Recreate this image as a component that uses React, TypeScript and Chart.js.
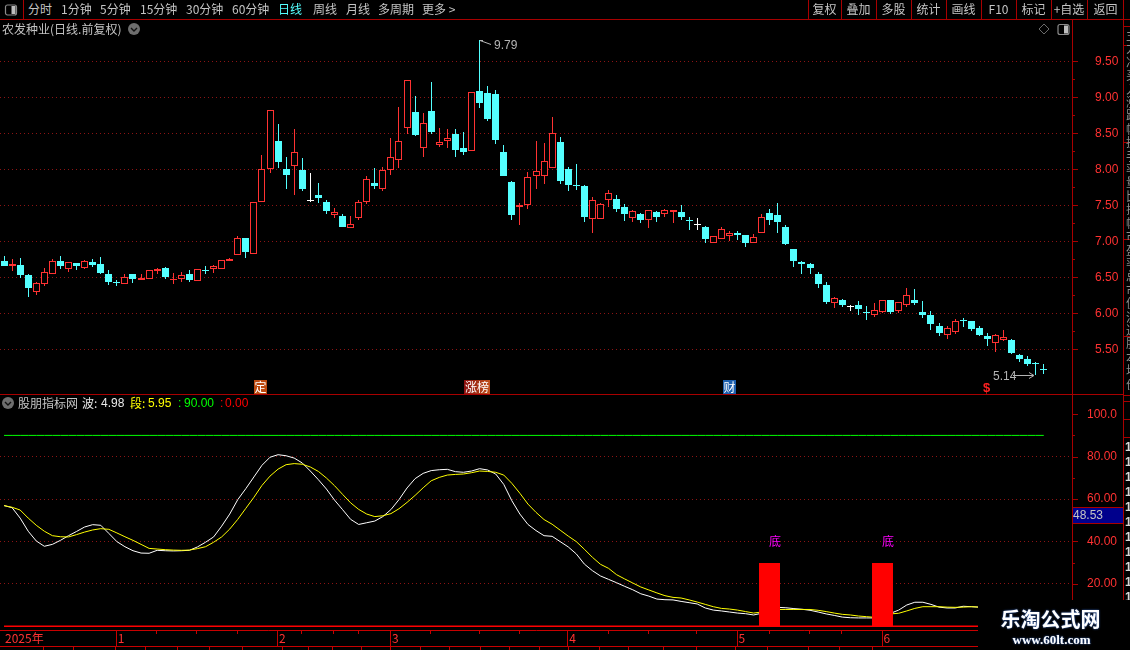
import React, { useEffect, useRef } from "react";
import { Chart, registerables } from "chart.js";

Chart.register(...registerables);

// ---------- candles ----------
const opens = [6.73,6.65,6.67,6.53,6.29,6.40,6.54,6.73,6.61,6.70,6.63,6.71,6.69,6.55,6.43,6.41,6.55,6.46,6.48,6.59,6.63,6.48,6.47,6.55,6.45,6.60,6.61,6.61,6.72,6.81,7.05,6.83,7.54,8.01,8.39,8.00,8.05,7.99,7.58,7.64,7.55,7.36,7.35,7.19,7.33,7.54,7.81,7.72,7.99,8.13,8.58,8.80,8.29,8.81,8.34,8.39,8.49,8.30,8.26,9.09,9.06,9.05,8.24,7.82,7.47,7.51,7.90,7.90,8.02,8.38,8.00,7.78,7.77,7.31,7.31,7.58,7.59,7.48,7.32,7.38,7.30,7.41,7.38,7.40,7.41,7.30,7.24,7.20,6.97,7.03,7.08,7.12,7.09,6.98,7.12,7.39,7.37,7.20,6.89,6.71,6.69,6.55,6.39,6.14,6.19,6.10,6.12,6.02,5.98,6.02,6.19,6.03,6.12,6.19,6.02,5.98,5.82,5.70,5.74,5.90,5.89,5.80,5.69,5.59,5.63,5.63,5.42,5.37,5.31,5.23];
const highs = [6.80,6.75,6.77,6.55,6.44,6.63,6.76,6.80,6.71,6.70,6.74,6.75,6.78,6.60,6.46,6.55,6.55,6.55,6.60,6.63,6.64,6.56,6.58,6.60,6.61,6.66,6.67,6.74,6.77,7.07,7.05,7.54,8.20,8.82,8.63,8.17,8.56,8.16,7.95,7.81,7.58,7.46,7.38,7.35,7.57,7.91,8.02,8.03,8.44,8.87,9.24,9.02,8.78,9.21,8.57,8.56,8.56,8.52,9.07,9.79,9.16,9.10,8.34,7.84,7.53,7.96,8.39,8.37,8.73,8.45,8.03,8.07,7.78,7.62,7.53,7.71,7.64,7.52,7.44,7.39,7.44,7.42,7.45,7.44,7.50,7.34,7.32,7.21,7.08,7.20,7.14,7.14,7.09,7.10,7.38,7.45,7.53,7.23,6.89,6.73,6.70,6.57,6.44,6.23,6.20,6.12,6.17,6.10,6.14,6.19,6.19,6.16,6.35,6.34,6.17,6.03,5.87,5.82,5.92,5.94,5.89,5.82,5.73,5.71,5.77,5.64,5.44,5.41,5.32,5.30];
const lows = [6.66,6.59,6.49,6.23,6.26,6.38,6.54,6.62,6.57,6.60,6.62,6.64,6.55,6.39,6.38,6.41,6.42,6.46,6.48,6.55,6.48,6.41,6.44,6.44,6.45,6.55,6.56,6.61,6.72,6.81,6.77,6.83,7.54,7.95,8.02,7.73,7.64,7.70,7.55,7.53,7.38,7.32,7.20,7.19,7.30,7.52,7.73,7.70,7.92,8.02,8.49,8.46,8.17,8.49,8.31,8.30,8.17,8.20,8.26,8.85,8.67,8.35,7.91,7.30,7.23,7.45,7.73,7.80,8.02,7.80,7.70,7.71,7.27,7.12,7.31,7.48,7.41,7.28,7.27,7.25,7.19,7.27,7.34,7.25,7.30,7.16,7.16,6.98,6.97,7.03,7.00,7.02,6.92,6.98,7.12,7.23,7.12,6.95,6.64,6.55,6.55,6.35,6.13,6.07,6.09,6.03,5.98,5.91,5.95,6.00,5.99,6.00,6.09,6.12,5.94,5.77,5.69,5.64,5.71,5.81,5.75,5.69,5.55,5.46,5.62,5.44,5.32,5.27,5.14,5.16];
const closes = [6.66,6.69,6.53,6.35,6.42,6.58,6.72,6.66,6.71,6.66,6.72,6.67,6.56,6.44,6.43,6.51,6.48,6.49,6.60,6.62,6.50,6.48,6.53,6.46,6.61,6.60,6.65,6.74,6.76,7.05,6.85,7.54,8.01,8.82,8.10,7.92,8.24,7.73,7.58,7.60,7.42,7.40,7.20,7.24,7.54,7.86,7.77,7.99,8.17,8.39,9.24,8.48,8.64,8.52,8.38,8.44,8.27,8.24,9.07,8.92,8.70,8.41,7.91,7.37,7.51,7.89,7.97,8.11,8.50,7.84,7.78,7.78,7.34,7.58,7.52,7.67,7.45,7.38,7.42,7.30,7.44,7.34,7.43,7.44,7.34,7.30,7.24,7.03,7.08,7.17,7.11,7.09,6.98,7.06,7.34,7.30,7.27,6.96,6.73,6.69,6.63,6.41,6.16,6.21,6.12,6.10,6.06,6.02,6.05,6.19,6.02,6.16,6.25,6.14,5.98,5.85,5.73,5.79,5.89,5.90,5.78,5.70,5.64,5.70,5.67,5.45,5.37,5.30,5.31,5.23];
const whiteCrosses = [38, 86, 105];
const redCrosses = [21];

// ---------- indicator ----------
const waveLine = [56.9,55.9,51.0,44.8,40.2,37.7,38.6,40.5,42.7,44.7,46.8,47.9,47.6,43.8,39.9,37.5,35.6,34.5,34.4,35.8,35.6,35.5,35.6,35.8,37.4,39.6,42.1,47.2,52.9,59.7,64.9,70.4,75.9,79.7,80.9,80.4,79.3,77.0,73.2,69.1,64.7,59.5,55.0,50.4,48.0,48.8,49.6,51.7,55.0,59.7,65.2,69.6,72.1,73.4,73.8,74.0,72.9,72.6,73.2,74.3,73.7,71.8,66.9,59.2,52.9,48.0,45.1,42.7,42.4,39.9,37.4,34.1,29.3,26.2,23.7,22.1,20.5,18.8,17.2,15.3,14.2,12.8,12.5,12.4,11.7,11.1,10.5,8.6,7.6,7.2,6.7,6.2,5.9,5.3,6.1,7.6,8.9,8.7,8.3,8.0,7.5,6.7,5.8,5.1,4.3,4.0,3.9,3.9,3.9,4.8,6.1,7.6,10.0,11.3,11.3,10.3,9.0,8.6,8.6,9.4,9.2,9.0,8.9,8.8,8.9,8.7,8.6,8.5,8.4,8.4];
const segmentLine = [56.9,56.1,54.8,51.0,47.6,44.8,42.7,42.2,42.1,43.2,44.4,45.4,46.0,45.7,44.0,42.2,40.5,38.6,36.7,36.4,36.1,35.9,35.8,35.9,36.6,37.5,39.6,42.1,45.8,50.4,55.6,60.8,66.4,70.8,74.1,76.2,76.7,76.4,75.1,73.0,69.9,66.3,62.2,58.2,55.1,52.9,51.7,52.1,53.1,55.4,58.4,61.7,65.3,68.6,70.2,71.3,71.6,71.8,72.4,73.2,73.0,72.6,71.3,67.4,62.7,57.6,53.7,50.3,48.1,45.3,42.5,39.9,36.3,32.5,29.2,27.3,24.3,22.3,20.4,18.5,17.1,15.7,14.4,13.6,13.3,12.4,11.4,10.3,9.2,8.4,8.1,7.6,6.9,6.2,6.7,7.3,7.9,7.9,7.9,7.9,7.9,7.5,6.9,6.2,5.6,5.3,4.8,4.5,4.2,5.0,5.8,6.1,7.2,8.4,9.2,9.2,9.2,9.0,8.9,9.0,9.2,9.0,8.9,8.8,8.8,8.7,8.7,8.6,8.5,8.5];
const signalIndex = [95, 109];
const signalHeight = 30;
const upperLevel = 90;
const lowerLevel = 0;

// ---------- axes ----------
const priceTicks = [9.5,9.25,9,8.75,8.5,8.25,8,7.75,7.5,7.25,7,6.75,6.5,6.25,6,5.75,5.5];
const indicatorTicks = [100,90,80,70,60,40,30,20];
const indicatorLabels: Record<number, string> = { 100: "100.0", 80: "80.00", 60: "60.00", 40: "40.00", 20: "20.00" };
const monthIndex = [0, 14, 34, 48, 70, 91, 109];
const monthLabels = ["2025年", "1", "2", "3", "4", "5", "6"];
const minorDateIndex = [19,24,29,37,41,44,53,59,64,75,80,86,95,100,104];

const BLANK_SLOTS = 3;
const slotLabels: string[] = [];
for (let i = 0; i < opens.length + BLANK_SLOTS; i++) {
  const m = monthIndex.indexOf(i);
  slotLabels.push(m >= 0 ? monthLabels[m] : "");
}

const RED_TEXT = "#ff3232";
const AXIS_RED = "#a80000";
const GRID_RED = "#8c1414";
const CYAN = "#54ffff";
const TEXT_GREY = "#c4c4c4";
const LABEL_FONT = "Liberation Sans";
const CJK = '"Noto Sans CJK SC", sans-serif';

const isWhite = (i: number) => whiteCrosses.includes(i);
const isRedCross = (i: number) => redCrosses.includes(i);
const candleColor = (i: number) => {
  if (closes[i] > opens[i]) return RED_TEXT;
  if (closes[i] < opens[i]) return CYAN;
  if (isWhite(i)) return "#ffffff";
  if (isRedCross(i)) return RED_TEXT;
  return CYAN;
};

const snapBars = {
  id: "snapBars",
  afterDatasetsUpdate(chart: any) {
    chart.data.datasets.forEach((ds: any, di: number) => {
      if ((ds.type || chart.config.type) !== "bar") return;
      chart.getDatasetMeta(di).data.forEach((el: any) => {
        if (el.skip || el.y == null || isNaN(el.y)) return;
        el.x = Math.floor(el.x) + 0.5;
        const a = Math.round(el.y);
        let b = Math.round(el.base);
        if (a === b) b = a + 1;
        el.y = a;
        el.base = b;
      });
    });
  },
};

const axisTicks = {
  id: "axisTicks",
  afterDraw(chart: any) {
    const { ctx } = chart;
    const y = chart.scales.y;
    const axisX = chart.chartArea.right;
    ctx.save();
    ctx.strokeStyle = AXIS_RED;
    ctx.lineWidth = 1;
    y.ticks.forEach((t: any) => {
      const py = Math.round(y.getPixelForValue(t.value)) + 0.5;
      const len = t.label ? 6 : 3;
      ctx.beginPath();
      ctx.moveTo(axisX, py);
      ctx.lineTo(axisX + len, py);
      ctx.stroke();
    });
    ctx.restore();
  },
};

const dateTicks = {
  id: "dateTicks",
  afterDraw(chart: any) {
    const { ctx } = chart;
    const x = chart.scales.x;
    const top = chart.chartArea.bottom;
    ctx.save();
    ctx.strokeStyle = "#c80000";
    ctx.lineWidth = 1;
    const seg = (px: number, a: number, b: number) => {
      const rx = Math.round(px) - 0.5;
      ctx.beginPath();
      ctx.moveTo(rx, a);
      ctx.lineTo(rx, b);
      ctx.stroke();
    };
    monthIndex.slice(1).forEach((i) => seg(x.getPixelForValue(i), top, top + 16));
    minorDateIndex.forEach((i) => seg(x.getPixelForValue(i), top, top + 4));
    ctx.beginPath();
    ctx.moveTo(0, top + 16.5);
    ctx.lineTo(chart.chartArea.right, top + 16.5);
    ctx.stroke();
    ctx.restore();
  },
};

function fixedWidth(width: number) {
  return (s: any) => {
    s.width = width;
    s.paddingTop = 0;
    s.paddingBottom = 0;
  };
}

function baseOptions(): any {
  return {
    responsive: false,
    animation: false,
    devicePixelRatio: 1,
    events: [],
    layout: { padding: 0, autoPadding: false },
    plugins: { legend: { display: false }, tooltip: { enabled: false } },
  };
}

function makePriceChart(canvas: HTMLCanvasElement) {
  const idx = opens.map((_, i) => i);
  return new Chart(canvas, {
    type: "bar",
    data: {
      labels: slotLabels,
      datasets: [
        {
          label: "wick",
          order: 2,
          data: idx.map((i) => [lows[i], highs[i]]),
          backgroundColor: idx.map(candleColor),
          barThickness: 1,
          grouped: false,
          borderWidth: 0,
          inflateAmount: 0,
        },
        {
          label: "body",
          order: 1,
          data: idx.map((i) => [opens[i], closes[i]]),
          backgroundColor: idx.map((i) => (closes[i] > opens[i] ? "#000000" : candleColor(i))),
          borderColor: idx.map(candleColor),
          borderWidth: idx.map((i) => (closes[i] > opens[i] ? 1 : 0)),
          borderSkipped: false,
          barThickness: 7,
          grouped: false,
          inflateAmount: 0,
        },
      ] as any,
    },
    options: {
      ...baseOptions(),
      scales: {
        x: { display: false, offset: true, grid: { display: false } },
        y: {
          position: "right",
          min: 4.865,
          max: 10.0736,
          afterFit: fixedWidth(58),
          afterBuildTicks(s: any) {
            s.ticks = priceTicks.map((value) => ({ value }));
          },
          border: { display: true, color: AXIS_RED, dash: [1, 3] },
          grid: {
            drawTicks: false,
            color: (c: any) => (c.tick && (c.tick.value * 2) % 1 === 0 ? GRID_RED : "rgba(0,0,0,0)"),
          },
          ticks: {
            autoSkip: false,
            minRotation: 0,
            maxRotation: 0,
            padding: 23,
            color: RED_TEXT,
            font: { family: LABEL_FONT, size: 12 },
            callback: (v: any) => ((Number(v) * 2) % 1 === 0 ? Number(v).toFixed(2) : ""),
          },
        },
      },
    } as any,
    plugins: [snapBars, axisTicks],
  });
}

function makeIndicatorChart(canvas: HTMLCanvasElement) {
  const idx = opens.map((_, i) => i);
  return new Chart(canvas, {
    type: "bar",
    data: {
      labels: slotLabels,
      datasets: [
        {
          label: "底",
          order: 1,
          data: idx.map((i) => (signalIndex.includes(i) ? signalHeight : null)),
          backgroundColor: "#ff0000",
          barThickness: 21,
          grouped: false,
          borderWidth: 0,
          inflateAmount: 0,
        },
        {
          type: "line",
          label: "段",
          order: 2,
          data: segmentLine,
          borderColor: "#ffff00",
          borderWidth: 1,
          pointRadius: 0,
          tension: 0,
        },
        {
          type: "line",
          label: "波",
          order: 3,
          data: waveLine,
          borderColor: "#ffffff",
          borderWidth: 1,
          pointRadius: 0,
          tension: 0,
        },
        {
          type: "line",
          label: "upper",
          order: 4,
          data: idx.map(() => upperLevel),
          borderColor: "#00ff00",
          borderWidth: 1,
          pointRadius: 0,
        },
        {
          type: "line",
          label: "lower",
          order: 5,
          data: idx.map(() => lowerLevel),
          borderColor: "#ff0000",
          borderWidth: 1.5,
          pointRadius: 0,
        },
      ] as any,
    },
    options: {
      ...baseOptions(),
      scales: {
        x: {
          offset: true,
          afterFit(s: any) {
            s.height = 20;
            s.paddingLeft = 0;
            s.paddingRight = 0;
          },
          afterBuildTicks(s: any) {
            s.ticks = monthIndex.map((value) => ({ value }));
          },
          border: { display: true, color: "#c80000" },
          grid: { drawOnChartArea: false, drawTicks: false },
          ticks: {
            autoSkip: false,
            maxRotation: 0,
            align: "start",
            labelOffset: 1,
            padding: 1,
            color: RED_TEXT,
            font: { family: CJK, size: 12 },
          },
        },
        y: {
          position: "right",
          min: -1.79,
          max: 109.53,
          afterFit: fixedWidth(58),
          afterBuildTicks(s: any) {
            s.ticks = indicatorTicks.map((value) => ({ value }));
          },
          border: { display: true, color: AXIS_RED, dash: [1, 3] },
          grid: {
            drawTicks: false,
            color: (c: any) => (c.tick && c.tick.value % 20 === 0 && c.tick.value !== 100 ? GRID_RED : "rgba(0,0,0,0)"),
          },
          ticks: {
            autoSkip: false,
            minRotation: 0,
            maxRotation: 0,
            padding: 15,
            color: RED_TEXT,
            font: { family: LABEL_FONT, size: 12 },
            callback: (v: any) => indicatorLabels[Number(v)] || "",
          },
        },
      },
    } as any,
    plugins: [snapBars, axisTicks, dateTicks],
  });
}

// ---------- page furniture ----------
const toolbarLeft: [string, number, string?][] = [
  ["分时", 28], ["1分钟", 61], ["5分钟", 100], ["15分钟", 140], ["30分钟", 186], ["60分钟", 232],
  ["日线", 278, "#54ffff"], ["周线", 313], ["月线", 346], ["多周期", 378], ["更多 >", 422],
];
const toolbarRight: [string, number, number][] = [
  ["复权", 808, 841], ["叠加", 841, 876], ["多股", 876, 911], ["统计", 911, 946], ["画线", 946, 981],
  ["F10", 981, 1016], ["标记", 1016, 1051], ["+自选", 1051, 1087], ["返回", 1087, 1124],
];
const panelRowsRight = [26, 45, 142, 239, 336, 395, 401, 419, 437];
const rightColumnTop = ["主", "力", "净", "买", "入", "涨", "跌", "幅", "换", "手", "率", "量", "比", "振", "幅", "市", "盈", "率", "总", "市", "值", "流", "通", "股", "本", "均", "价"];
const rightColumnBottom = ["1", "1", "1", "1", "1", "1", "1", "1", "1", "1", "1"];
const bottomRowTicks = [43,73,115,145,177,209,242,282,308,332,361,390,420,449,480,509,539,568,599,628,663,696,735,767,808,839,872];

const T = ({ x, y, color = TEXT_GREY, size = 12, font = CJK, children }: any) => (
  <span
    style={{
      position: "absolute",
      left: x,
      top: y - 9,
      height: 18,
      lineHeight: "18px",
      color,
      fontSize: size,
      fontFamily: font,
      whiteSpace: "nowrap",
    }}
  >
    {children}
  </span>
);

const Box = ({ x, y, w, h, color = AXIS_RED }: any) => (
  <div style={{ position: "absolute", left: x, top: y, width: w, height: h, background: color }} />
);

const Badge = ({ x, w, bg, children }: any) => (
  <div
    style={{
      position: "absolute",
      left: x,
      top: 380,
      width: w,
      height: 14,
      background: bg,
      color: "#fff",
      fontSize: 12,
      lineHeight: "14px",
      textAlign: "center",
      fontFamily: CJK,
      whiteSpace: "nowrap",
    }}
  >
    {children}
  </div>
);

const Chevron = ({ cx, cy }: any) => (
  <g>
    <circle cx={cx} cy={cy} r={6} fill="#6e6e6e" />
    <polyline points={`${cx - 3},${cy - 1} ${cx},${cy + 2} ${cx + 3},${cy - 1}`} fill="none" stroke="#111" strokeWidth={1.4} />
  </g>
);

const PanelIcon = ({ x, y }: any) => (
  <g>
    <rect x={x} y={y} width={11} height={10} rx={2} fill="none" stroke="#8a8a8a" strokeWidth={1.2} />
    <rect x={x + 6} y={y + 1} width={4} height={8} fill="#bdbdbd" />
  </g>
);

export default function App() {
  const priceRef = useRef<HTMLCanvasElement>(null);
  const indRef = useRef<HTMLCanvasElement>(null);

  useEffect(() => {
    document.body.style.margin = "0";
    document.body.style.background = "#000";
    const a = makePriceChart(priceRef.current!);
    const b = makeIndicatorChart(indRef.current!);
    return () => {
      a.destroy();
      b.destroy();
    };
  }, []);

  return (
    <div style={{ position: "relative", width: 1130, height: 650, background: "#000", overflow: "hidden" }}>
      <canvas ref={priceRef} width={1130} height={375} style={{ position: "absolute", left: 0, top: 20, width: 1130, height: 375 }} />
      <canvas ref={indRef} width={1130} height={256} style={{ position: "absolute", left: 0, top: 394, width: 1130, height: 256 }} />

      {/* frame */}
      <Box x={0} y={19} w={1130} h={1} />
      <Box x={0} y={394} w={1123} h={1} />
      <Box x={23} y={0} w={1} h={19} />
      <Box x={1072} y={20} w={1} h={580} />
      <Box x={1123} y={0} w={1} h={600} />
      {toolbarRight.map(([, a]) => (
        <Box key={a} x={a} y={0} w={1} h={19} />
      ))}
      {panelRowsRight.map((y) => (
        <Box key={y} x={1124} y={y} w={6} h={1} />
      ))}

      {/* toolbar */}
      {toolbarLeft.map(([label, x, color]) => (
        <T key={label} x={x} y={9} color={color || TEXT_GREY}>
          {label}
        </T>
      ))}
      {toolbarRight.map(([label, a, b]) => (
        <span
          key={label}
          style={{
            position: "absolute",
            left: a,
            top: 0,
            width: b - a,
            height: 18,
            lineHeight: "18px",
            textAlign: "center",
            color: TEXT_GREY,
            fontSize: 12,
            fontFamily: CJK,
            whiteSpace: "nowrap",
          }}
        >
          {label}
        </span>
      ))}

      {/* right hand cut-off column */}
      <div style={{ position: "absolute", left: 1126, top: 28, width: 4, color: "#8e8e8e", fontSize: 12, lineHeight: "13.4px", fontFamily: CJK, overflow: "hidden" }}>
        {rightColumnTop.map((c, i) => (
          <div key={i}>{c}</div>
        ))}
      </div>
      <div style={{ position: "absolute", left: 1125, top: 440, width: 5, color: "#d8d8d8", fontSize: 12, lineHeight: "15px", fontWeight: 700, fontFamily: LABEL_FONT, overflow: "hidden" }}>
        {rightColumnBottom.map((c, i) => (
          <div key={i}>{c}</div>
        ))}
      </div>

      {/* titles */}
      <T x={2} y={29}>农发种业(日线.前复权)</T>
      <T x={18} y={403}>股朋指标网</T>
      <T x={82} y={403} color="#e8e8e8">波:</T>
      <T x={101} y={403} color="#e8e8e8" font={LABEL_FONT}>4.98</T>
      <T x={130} y={403} color="#ffff00">段:</T>
      <T x={148} y={403} color="#ffff00" font={LABEL_FONT}>5.95</T>
      <T x={178} y={403} color="#00ff00" font={LABEL_FONT}>:</T>
      <T x={184} y={403} color="#00ff00" font={LABEL_FONT}>90.00</T>
      <T x={220} y={403} color="#ff0000" font={LABEL_FONT}>:</T>
      <T x={225} y={403} color="#ff0000" font={LABEL_FONT}>0.00</T>

      {/* price annotations */}
      <T x={494} y={45} color="#b4b4b4" font={LABEL_FONT}>9.79</T>
      <T x={993} y={376} color="#b4b4b4" font={LABEL_FONT}>5.14</T>
      <T x={983} y={388} color="#ff2020" size={13} font={LABEL_FONT}>
        <b>$</b>
      </T>
      <Badge x={254} w={13} bg="#bc4a10">定</Badge>
      <Badge x={464} w={26} bg="linear-gradient(90deg,#8a1010,#c0501a)">涨榜</Badge>
      <Badge x={723} w={13} bg="#1c5fae">财</Badge>

      {/* signal labels */}
      <T x={769} y={541} color="#ff00ff">底</T>
      <T x={882} y={541} color="#ff00ff">底</T>

      {/* current value */}
      <div
        style={{
          position: "absolute",
          left: 1073,
          top: 507,
          width: 50,
          height: 15,
          background: "#00008c",
          borderTop: `1px solid ${AXIS_RED}`,
          borderBottom: `1px solid ${AXIS_RED}`,
          color: TEXT_GREY,
          fontSize: 12,
          lineHeight: "15px",
          fontFamily: LABEL_FONT,
        }}
      >
        48.53
      </div>

      {/* icons and arrows */}
      <svg width={1130} height={650} style={{ position: "absolute", left: 0, top: 0, pointerEvents: "none" }}>
        <PanelIcon x={5.5} y={5} />
        <Chevron cx={134} cy={29} />
        <Chevron cx={8} cy={403} />
        <polygon points="1044,24 1049,29 1044,34 1039,29" fill="none" stroke="#6a6a6a" />
        <PanelIcon x={1058} y={24.5} />
        <polyline points="480,40.5 483,40.5 480,40.5 491,44.5" fill="none" stroke="#b4b4b4" />
        <line x1={1013} y1={375.5} x2={1033} y2={375.5} stroke="#b4b4b4" />
        <polyline points="1029,372.5 1034,375.5 1029,378.5" fill="none" stroke="#b4b4b4" />
        {bottomRowTicks.map((x) => (
          <line key={x} x1={x + 0.5} y1={646} x2={x + 0.5} y2={650} stroke="#c80000" />
        ))}
      </svg>

      {/* watermark */}
      <div style={{ position: "absolute", left: 978, top: 600, width: 152, height: 50, background: "#000" }} />
      <div
        style={{
          position: "absolute",
          left: 978,
          top: 607,
          width: 145,
          textAlign: "center",
          color: "#fff",
          fontSize: 20,
          lineHeight: "24px",
          fontWeight: 700,
          fontFamily: '"Noto Sans CJK SC", sans-serif',
          textShadow: "0 0 2px #3a6fd0",
        }}
      >
        乐淘公式网
      </div>
      <div
        style={{
          position: "absolute",
          left: 978,
          top: 632,
          width: 147,
          textAlign: "center",
          color: "#fff",
          fontSize: 13,
          lineHeight: "16px",
          fontWeight: 700,
          fontFamily: '"Liberation Serif", serif',
          textShadow: "0 0 2px #3a6fd0",
        }}
      >
        www.60lt.com
      </div>
    </div>
  );
}
